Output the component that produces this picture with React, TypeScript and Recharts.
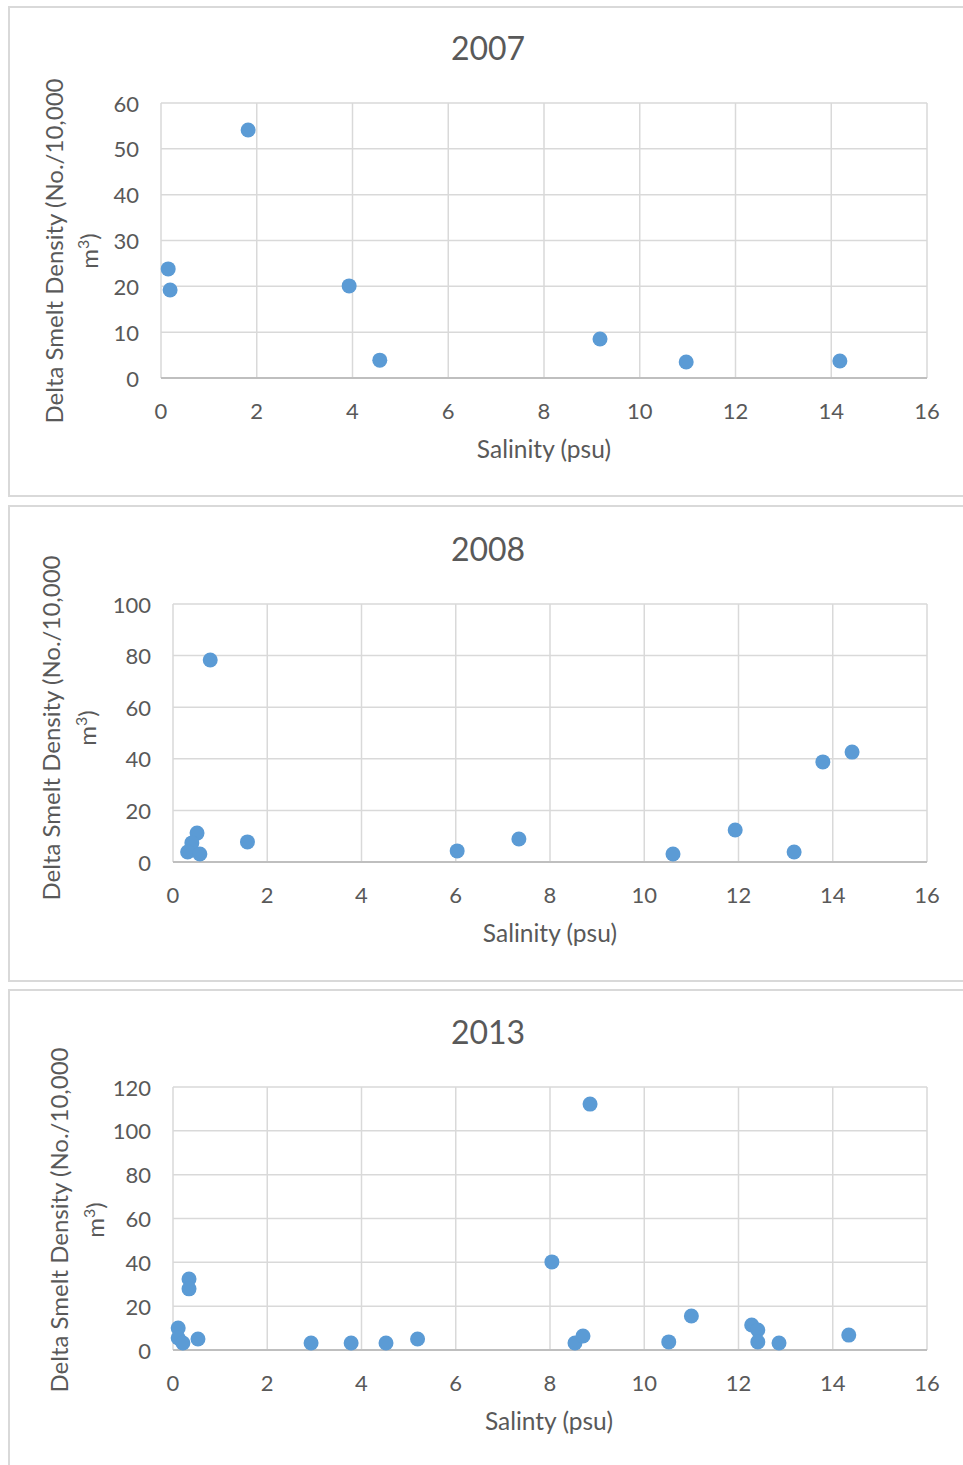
import { CartesianGrid, Scatter, ScatterChart, XAxis, YAxis } from 'recharts'

const FONT = 'Lato, "Open Sans", sans-serif'
const TEXT = '#595959'
const DOT = '#5b9bd5'

// salinity (psu) and delta smelt density for each survey year
const salinity2007 = [0.15, 0.19, 1.82, 3.93, 4.57, 9.17, 10.97, 14.18]
const density2007 = [23.8, 19.2, 54.1, 20.1, 3.9, 8.5, 3.5, 3.7]

const salinity2008 = [0.79, 0.51, 0.4, 0.31, 0.57, 1.58, 6.03, 7.34, 10.61, 11.93, 13.18, 13.79, 14.41]
const density2008 = [78.3, 11.2, 7.4, 3.9, 3.1, 7.8, 4.3, 8.9, 3.1, 12.4, 3.9, 38.8, 42.6]

const salinity2013 = [8.85, 8.04, 0.34, 0.34, 0.11, 0.11, 0.21, 0.53, 2.93, 3.78, 4.52, 5.19, 8.53, 8.7, 10.52, 11.0, 12.28, 12.41, 12.41, 12.86, 14.34]
const density2013 = [112.2, 40.2, 32.4, 27.9, 10.0, 5.5, 3.2, 5.0, 3.2, 3.2, 3.2, 5.0, 3.2, 6.4, 3.7, 15.5, 11.4, 9.1, 3.7, 3.2, 6.8]

const xTicks = [0, 2, 4, 6, 8, 10, 12, 14, 16]
const yTicks2007 = [0, 10, 20, 30, 40, 50, 60]
const yTicks2008 = [0, 20, 40, 60, 80, 100]
const yTicks2013 = [0, 20, 40, 60, 80, 100, 120]

const zip = (xs: number[], ys: number[]) => xs.map((x, i) => ({ x, y: ys[i] }))

const XTick = ({ x, y, payload }: any) => (
  <text x={x} y={y + 32} textAnchor="middle" dominantBaseline="central" fill={TEXT} fontSize={22} fontFamily={FONT}>
    {payload.value}
  </text>
)

const YTick = ({ x, y, payload }: any) => (
  <text x={x - 22} y={y} textAnchor="end" dominantBaseline="central" fill={TEXT} fontSize={22} fontFamily={FONT}>
    {payload.value}
  </text>
)

const Dot = (p: any) => <circle cx={p.cx} cy={p.cy} r={7.5} fill={DOT} />

type PanelProps = {
  top: number
  height: number
  plotTop: number
  plotBottom: number
  axisWidth: number
  yTicks: number[]
  data: { x: number; y: number }[]
}

function Panel({ top, height, plotTop, plotBottom, axisWidth, yTicks, data }: PanelProps) {
  const yMax = yTicks[yTicks.length - 1]
  return (
    <div style={{ position: 'absolute', left: 0, top }}>
      <ScatterChart width={963} height={height} margin={{ top: plotTop, right: 36, bottom: height - plotBottom - 30, left: 0 }}>
        <CartesianGrid stroke="#d9d9d9" strokeWidth={1.5} />
        <XAxis
          type="number"
          dataKey="x"
          domain={[0, 16]}
          ticks={xTicks}
          interval={0}
          height={30}
          tickSize={0}
          tickMargin={0}
          tickLine={false}
          axisLine={{ stroke: '#bfbfbf', strokeWidth: 2 }}
          tick={<XTick />}
        />
        <YAxis
          type="number"
          dataKey="y"
          domain={[0, yMax]}
          ticks={yTicks}
          interval={0}
          width={axisWidth}
          tickSize={0}
          tickMargin={0}
          tickLine={false}
          axisLine={false}
          tick={<YTick />}
        />
        <Scatter data={data} shape={Dot} isAnimationActive={false} />
      </ScatterChart>
    </div>
  )
}

const centered = (x: number, y: number, size: number, rotate = false): React.CSSProperties => ({
  position: 'absolute',
  left: x,
  top: y,
  transform: `translate(-50%, -50%)${rotate ? ' rotate(-90deg)' : ''}`,
  whiteSpace: 'nowrap',
  fontFamily: FONT,
  fontSize: size,
  color: TEXT,
  lineHeight: 1,
})

function Labels({ title, titleY, xTitle, xTitleX, xTitleY, yLine1X, yLine2X, yCenter }: any) {
  return (
    <>
      <div style={centered(488, titleY, 32)}>{title}</div>
      <div style={centered(xTitleX, xTitleY, 24.5)}>{xTitle}</div>
      <div style={centered(yLine1X, yCenter, 24)}>
        <div style={{ transform: 'rotate(-90deg)' }}>Delta Smelt Density (No./10,000</div>
      </div>
      <div style={centered(yLine2X, yCenter, 24, true)}>
        m<sup style={{ fontSize: 16 }}>3</sup>)
      </div>
    </>
  )
}

const border = (top: number, height: number): React.CSSProperties => ({
  position: 'absolute',
  left: 8,
  top,
  width: 980,
  height,
  border: '2px solid #d9d9d9',
  boxSizing: 'border-box',
})

export default function App() {
  return (
    <div style={{ position: 'absolute', left: 0, top: 0, width: 963, height: 1465, overflow: 'hidden', background: '#fff' }}>
      <div style={border(6, 491)} />
      <div style={border(505, 477)} />
      <div style={border(989, 500)} />

      <Panel top={0} height={500} plotTop={103} plotBottom={378} axisWidth={161} yTicks={yTicks2007} data={zip(salinity2007, density2007)} />
      <Panel top={500} height={490} plotTop={104} plotBottom={362} axisWidth={173} yTicks={yTicks2008} data={zip(salinity2008, density2008)} />
      <Panel top={990} height={475} plotTop={97} plotBottom={360} axisWidth={173} yTicks={yTicks2013} data={zip(salinity2013, density2013)} />

      <Labels title="2007" titleY={48} xTitle="Salinity (psu)" xTitleX={544} xTitleY={449} yLine1X={54} yLine2X={88} yCenter={251} />
      <Labels title="2008" titleY={549} xTitle="Salinity (psu)" xTitleX={550} xTitleY={933} yLine1X={51} yLine2X={86} yCenter={728} />
      <Labels title="2013" titleY={1032} xTitle="Salinty (psu)" xTitleX={549} xTitleY={1421} yLine1X={59} yLine2X={94} yCenter={1220} />
    </div>
  )
}
